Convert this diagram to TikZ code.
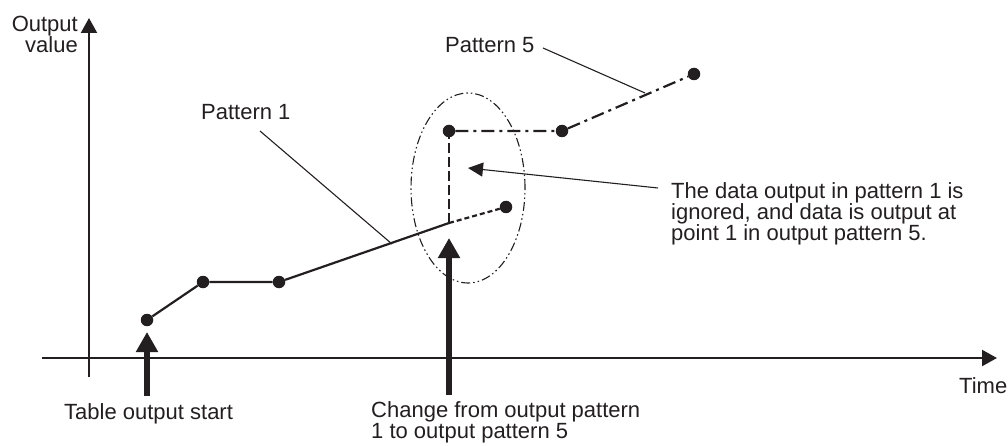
\documentclass[tikz,border=0pt]{standalone}
\usepackage{fontspec}
\setmainfont{Liberation Sans}
\usetikzlibrary{arrows.meta,shapes.geometric}
\definecolor{ink}{HTML}{231F20}
\begin{document}
\begin{tikzpicture}[x=1pt,y=-1pt,
  every node/.style={text=ink},
  lbl/.style={inner sep=0pt,font=\fontsize{22}{21}\selectfont},
  dot/.style={circle,fill=ink,inner sep=0pt,minimum size=12.5pt},
  axis/.style={draw=ink,line width=2.2pt,-{Triangle[length=15pt,width=16pt]}},
  bigarrow/.style={draw=ink,line width=6pt,-{Triangle[length=20pt,width=21pt]}},
  thinarrow/.style={draw=ink,line width=1.1pt,-{Triangle[length=15pt,width=14pt]}},
  dataline/.style={draw=ink,line width=2.2pt},
  leader/.style={draw=ink,line width=1.1pt}
]
\useasboundingbox (0,0) rectangle (1008,446);

% axes
\coordinate (xs) at (42,358);
\coordinate (xe) at (997,358);
\coordinate (ys) at (89,377);
\coordinate (ye) at (89,18);
\draw[axis] (xs) -- (xe);
\draw[axis] (ys) -- (ye);

% data points
\node[dot] (p1) at (147,320) {};
\node[dot] (p2) at (203,282) {};
\node[dot] (p3) at (279,282) {};
\node[dot] (p4) at (506,207) {};
\node[dot] (p5) at (449,131) {};
\node[dot] (p6) at (562,131) {};
\node[dot] (p7) at (694,74) {};
\coordinate (sw) at (449,223);

\draw[dataline] (p1) -- (p2) -- (p3) -- (sw);
\draw[dataline,dash pattern=on 5pt off 3pt] (sw) -- (p4);
\draw[dataline,dash pattern=on 10pt off 4pt] (sw) -- (p5);
\draw[dataline,dash pattern=on 13pt off 5pt on 3pt off 5pt] (p5) -- (p6) -- (p7);

% ellipse
\node[ellipse,draw=ink,line width=1.1pt,inner sep=0pt,minimum width=114pt,minimum height=190pt,
  dash pattern=on 9pt off 3pt on 1.5pt off 3pt on 1.5pt off 3pt] (ell) at (468,188) {};

% labels
\node[lbl,anchor=north east,align=right] (ylab) at (78,16) {Output\\value};
\node[lbl,anchor=north west] (xlab) at (959,377) {Time};
\node[lbl,anchor=north west] (pat1) at (201,104) {Pattern 1};
\node[lbl,anchor=north west] (pat5) at (445,37) {Pattern 5};
\node[lbl,anchor=north west,align=left] (note) at (671,182)
  {The data output in pattern 1 is\\ignored, and data is output at\\point 1 in output pattern 5.};
\node[lbl,anchor=north west] (start) at (64,403) {Table output start};
\node[lbl,anchor=north west,align=left] (change) at (371,401)
  {Change from output pattern\\1 to output pattern 5};

% leaders
\coordinate (l1a) at (260,131);
\coordinate (l1b) at (392,244);
\draw[leader] (l1a) -- (l1b);
\coordinate (l5a) at (543,48);
\coordinate (l5b) at (645,93);
\draw[leader] (l5a) -- (l5b);
\coordinate (na) at (658,188);
\coordinate (nb) at (468,168);
\draw[thinarrow] (na) -- (nb);

% thick arrows
\coordinate (a1s) at (147,396);
\coordinate (a1e) at (147,332);
\draw[bigarrow] (a1s) -- (a1e);
\coordinate (a2s) at (449,395);
\coordinate (a2e) at (449,238);
\draw[bigarrow] (a2s) -- (a2e);
\end{tikzpicture}
\end{document}
